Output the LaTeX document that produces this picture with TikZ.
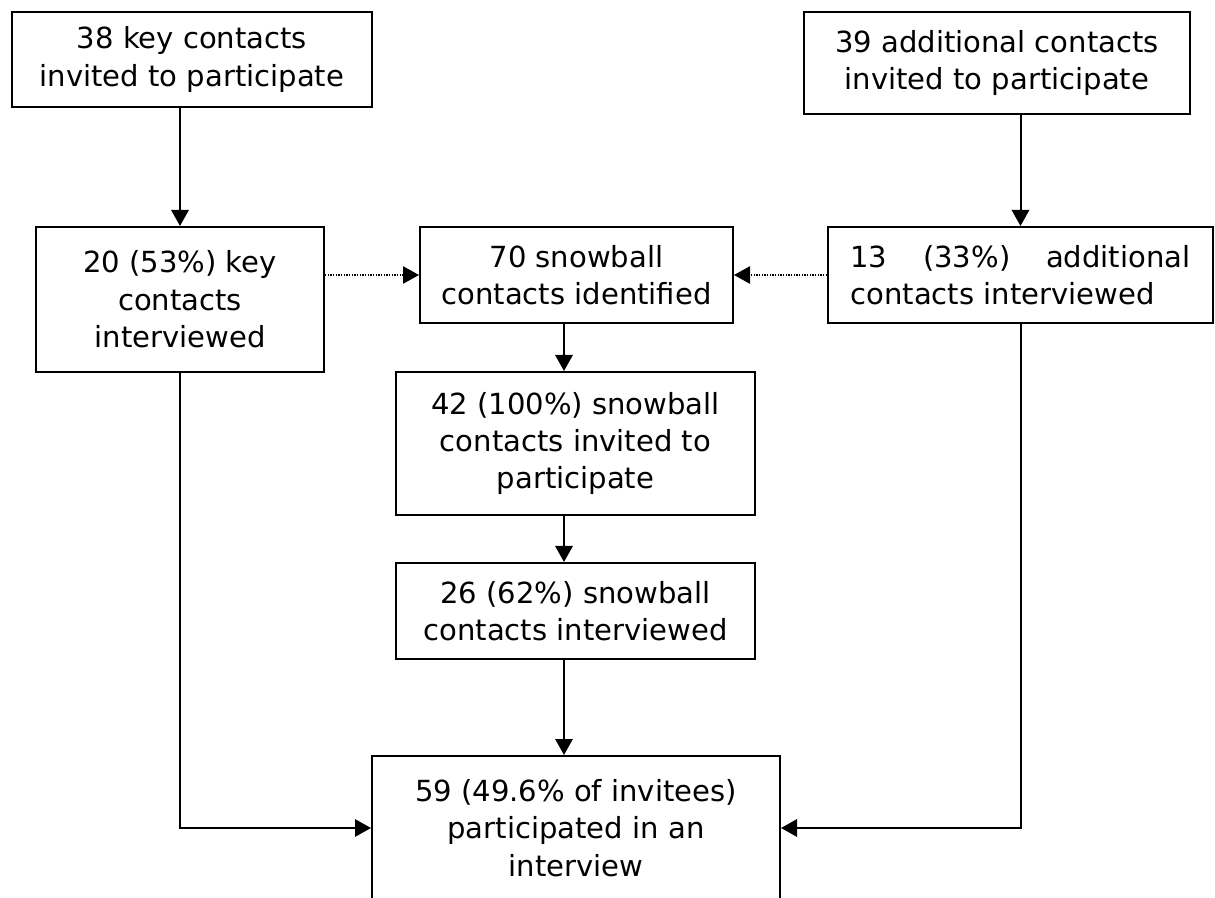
\documentclass[tikz,border=0pt]{standalone}
\usepackage{fontspec}
\setmainfont{DejaVu Sans}
\usetikzlibrary{arrows.meta}
\newdimen\pxu \pxu=0.75pt
\begin{document}
\begin{tikzpicture}[x=0.75pt,y=-0.75pt,
  box/.style={draw, line width=1.5pt, inner sep=0pt, align=center,
    font=\fontsize{21.8pt}{28pt}\selectfont},
  arr/.style={line width=1.5pt, -{Triangle[length=12pt,width=13pt]}},
  dotarr/.style={line width=1pt, dash pattern=on 1pt off 1pt, -{Triangle[length=12pt,width=13pt]}}]
\useasboundingbox (0,0) rectangle (1215,898);
\clip (0,0) rectangle (1215,898);
\node[box, minimum width=360\pxu, minimum height=95\pxu] (A) at (192,59.5) {38 key contacts\\invited to participate};
\node[box, minimum width=386\pxu, minimum height=102\pxu] (B) at (997,63) {39 additional contacts\\invited to participate};
\node[box, minimum width=288\pxu, minimum height=145\pxu] (C) at (180,299.5) {20 (53\%) key\\contacts\\interviewed};
\node[box, minimum width=313\pxu, minimum height=96\pxu] (D) at (576.5,275) {70 snowball\\contacts identified};
\node[box, align=left, minimum width=385\pxu, minimum height=96\pxu] (E) at (1020.5,275) {\hbox to 255pt{13\hfill(33\%)\hfill additional}\\contacts interviewed};
\node[box, minimum width=359\pxu, minimum height=143\pxu] (F) at (575.5,443.5) {42 (100\%) snowball\\contacts invited to\\participate};
\node[box, minimum width=359\pxu, minimum height=96\pxu] (G) at (575.5,611) {26 (62\%) snowball\\contacts interviewed};
\node[box, minimum width=408\pxu, minimum height=144\pxu] (H) at (576,828) {59 (49.6\% of invitees)\\participated in an\\interview};
\coordinate (mid) at (564,0);
\draw[arr] (C.north |- A.south) -- (C.north);
\draw[arr] (E.north |- B.south) -- (E.north);
\draw[dotarr] (C.east |- D.west) -- (D.west);
\draw[dotarr] (E.west) -- (D.east);
\draw[arr] (D.south -| mid) -- (F.north -| mid);
\draw[arr] (F.south -| mid) -- (G.north -| mid);
\draw[arr] (G.south -| mid) -- (H.north -| mid);
\draw[arr] (C.south) |- (H.west);
\draw[arr] (E.south) |- (H.east);
\end{tikzpicture}
\end{document}
